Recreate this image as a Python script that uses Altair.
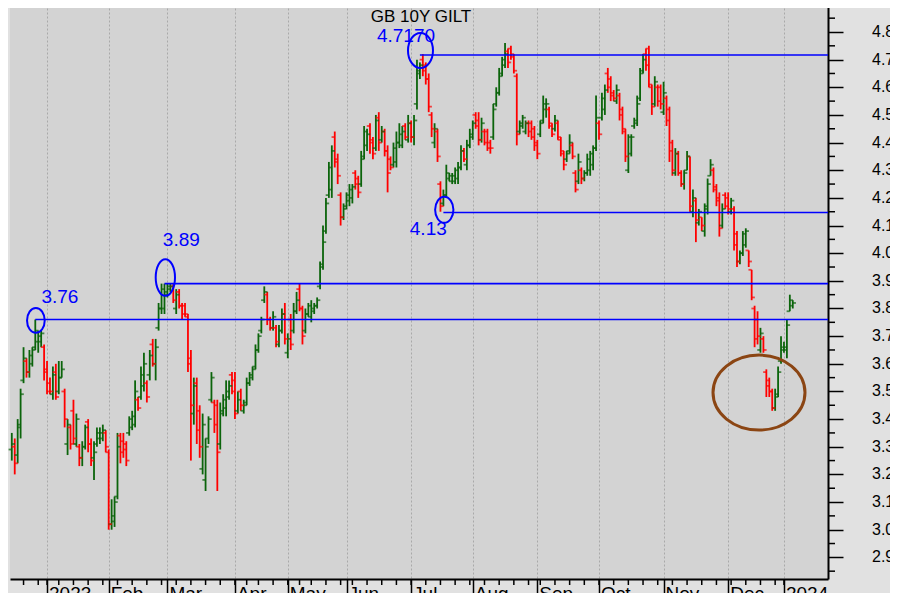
import altair as alt
import pandas as pd

# ---------------- data ----------------
HOLIDAYS = ["2022-12-26", "2022-12-27", "2023-01-02", "2023-04-07", "2023-04-10",
            "2023-05-01", "2023-05-08", "2023-05-29", "2023-08-28", "2023-12-25",
            "2023-12-26", "2024-01-01"]

opens = [3.29, 3.30, 3.27, 3.37, 3.54, 3.61, 3.57, 3.60, 3.66, 3.68, 3.68, 3.66, 3.58, 3.53, 3.49, 3.57, 3.50, 3.55, 3.50, 3.31,
         3.37, 3.43, 3.31, 3.30, 3.26, 3.30, 3.39, 3.31, 3.26, 3.31, 3.33, 3.33, 3.35, 3.28, 3.02, 3.03, 3.12, 3.34, 3.32, 3.31,
         3.35, 3.37, 3.38, 3.47, 3.48, 3.52, 3.53, 3.56, 3.67, 3.60, 3.73, 3.80, 3.80, 3.85, 3.87, 3.88, 3.80, 3.86, 3.81, 3.81,
         3.77, 3.60, 3.42, 3.53, 3.43, 3.22, 3.18, 3.33, 3.47, 3.46, 3.45, 3.31, 3.42, 3.44, 3.48, 3.56, 3.54, 3.43, 3.50, 3.43,
         3.46, 3.53, 3.55, 3.59, 3.65, 3.72, 3.83, 3.85, 3.76, 3.73, 3.73, 3.67, 3.72, 3.78, 3.64, 3.76, 3.72, 3.79, 3.87, 3.80,
         3.72, 3.78, 3.77, 3.79, 3.81, 3.88, 3.96, 4.08, 4.21, 4.23, 4.42, 4.34, 4.21, 4.13, 4.17, 4.19, 4.20, 4.29, 4.27, 4.25,
         4.35, 4.39, 4.46, 4.41, 4.38, 4.49, 4.41, 4.44, 4.37, 4.34, 4.32, 4.33, 4.40, 4.39, 4.46, 4.41, 4.47, 4.42, 4.54, 4.65,
         4.70, 4.68, 4.63, 4.50, 4.40, 4.44, 4.25, 4.18, 4.21, 4.27, 4.26, 4.26, 4.27, 4.31, 4.37, 4.32, 4.39, 4.42, 4.50, 4.48,
         4.41, 4.44, 4.44, 4.40, 4.42, 4.54, 4.58, 4.65, 4.68, 4.73, 4.74, 4.71, 4.64, 4.44, 4.46, 4.44, 4.47, 4.47, 4.45, 4.40,
         4.43, 4.48, 4.52, 4.52, 4.46, 4.45, 4.47, 4.41, 4.36, 4.34, 4.37, 4.39, 4.29, 4.26, 4.30, 4.27, 4.29, 4.30, 4.32, 4.38,
         4.47, 4.49, 4.52, 4.65, 4.63, 4.58, 4.55, 4.57, 4.52, 4.44, 4.30, 4.36, 4.46, 4.47, 4.56, 4.66, 4.72, 4.74, 4.60, 4.54,
         4.60, 4.60, 4.51, 4.56, 4.52, 4.40, 4.29, 4.36, 4.29, 4.25, 4.30, 4.35, 4.15, 4.19, 4.11, 4.13, 4.08, 4.16, 4.28, 4.30,
         4.24, 4.20, 4.10, 4.21, 4.20, 4.15, 4.16, 4.07, 3.97, 4.00, 4.03, 4.01, 3.94, 3.80, 3.76, 3.65, 3.69, 3.57, 3.54, 3.50,
         3.44, 3.49, 3.61, 3.65, 3.65, 3.79, 3.81]
highs = [3.35, 3.33, 3.40, 3.51, 3.66, 3.62, 3.65, 3.66, 3.76, 3.72, 3.72, 3.67, 3.61, 3.55, 3.59, 3.60, 3.61, 3.61, 3.51, 3.40,
         3.38, 3.47, 3.42, 3.31, 3.32, 3.38, 3.40, 3.33, 3.32, 3.37, 3.37, 3.38, 3.36, 3.29, 3.11, 3.12, 3.35, 3.35, 3.35, 3.32,
         3.41, 3.43, 3.54, 3.48, 3.59, 3.64, 3.54, 3.65, 3.69, 3.69, 3.82, 3.89, 3.89, 3.89, 3.89, 3.89, 3.87, 3.87, 3.82, 3.82,
         3.78, 3.65, 3.55, 3.55, 3.45, 3.42, 3.33, 3.41, 3.57, 3.47, 3.47, 3.46, 3.49, 3.54, 3.54, 3.57, 3.57, 3.50, 3.51, 3.47,
         3.55, 3.57, 3.59, 3.67, 3.71, 3.77, 3.88, 3.86, 3.77, 3.79, 3.74, 3.74, 3.80, 3.82, 3.71, 3.78, 3.82, 3.86, 3.89, 3.81,
         3.80, 3.82, 3.83, 3.82, 3.84, 3.97, 4.10, 4.20, 4.33, 4.39, 4.44, 4.36, 4.22, 4.18, 4.22, 4.25, 4.25, 4.30, 4.28, 4.37,
         4.46, 4.45, 4.47, 4.42, 4.50, 4.51, 4.46, 4.45, 4.39, 4.35, 4.40, 4.44, 4.47, 4.46, 4.47, 4.50, 4.48, 4.50, 4.70, 4.69,
         4.72, 4.69, 4.65, 4.51, 4.47, 4.45, 4.26, 4.23, 4.32, 4.29, 4.29, 4.31, 4.33, 4.39, 4.38, 4.41, 4.45, 4.48, 4.51, 4.51,
         4.49, 4.45, 4.45, 4.41, 4.54, 4.60, 4.67, 4.71, 4.76, 4.74, 4.75, 4.72, 4.65, 4.48, 4.50, 4.48, 4.48, 4.48, 4.46, 4.41,
         4.48, 4.57, 4.56, 4.53, 4.47, 4.50, 4.48, 4.42, 4.37, 4.37, 4.43, 4.40, 4.30, 4.36, 4.31, 4.30, 4.36, 4.37, 4.39, 4.57,
         4.48, 4.58, 4.61, 4.67, 4.64, 4.59, 4.61, 4.58, 4.53, 4.45, 4.43, 4.43, 4.49, 4.57, 4.67, 4.72, 4.74, 4.75, 4.61, 4.64,
         4.61, 4.61, 4.62, 4.57, 4.53, 4.41, 4.38, 4.37, 4.30, 4.30, 4.37, 4.35, 4.23, 4.20, 4.16, 4.13, 4.18, 4.27, 4.34, 4.31,
         4.25, 4.22, 4.18, 4.22, 4.22, 4.20, 4.17, 4.08, 4.01, 4.08, 4.09, 4.01, 3.94, 3.81, 3.79, 3.73, 3.70, 3.58, 3.55, 3.51,
         3.51, 3.59, 3.70, 3.68, 3.76, 3.85, 3.83]
lows = [3.25, 3.20, 3.24, 3.33, 3.53, 3.55, 3.55, 3.59, 3.65, 3.64, 3.66, 3.54, 3.49, 3.49, 3.47, 3.47, 3.49, 3.55, 3.37, 3.27,
        3.29, 3.31, 3.30, 3.23, 3.23, 3.29, 3.28, 3.23, 3.18, 3.30, 3.31, 3.32, 3.28, 3.00, 3.00, 3.01, 3.11, 3.24, 3.26, 3.23,
        3.34, 3.36, 3.37, 3.43, 3.47, 3.50, 3.46, 3.54, 3.59, 3.54, 3.72, 3.78, 3.78, 3.84, 3.86, 3.82, 3.78, 3.80, 3.76, 3.77,
        3.57, 3.25, 3.38, 3.31, 3.26, 3.20, 3.14, 3.31, 3.46, 3.35, 3.14, 3.29, 3.41, 3.41, 3.47, 3.49, 3.40, 3.42, 3.43, 3.42,
        3.45, 3.52, 3.54, 3.58, 3.64, 3.71, 3.82, 3.74, 3.72, 3.72, 3.66, 3.66, 3.71, 3.67, 3.62, 3.65, 3.71, 3.78, 3.79, 3.67,
        3.71, 3.77, 3.75, 3.78, 3.80, 3.87, 3.94, 4.07, 4.20, 4.20, 4.31, 4.25, 4.10, 4.12, 4.16, 4.17, 4.18, 4.23, 4.20, 4.24,
        4.34, 4.37, 4.36, 4.34, 4.37, 4.37, 4.40, 4.35, 4.22, 4.30, 4.31, 4.31, 4.38, 4.38, 4.41, 4.40, 4.40, 4.39, 4.52, 4.63,
        4.64, 4.61, 4.51, 4.42, 4.38, 4.33, 4.15, 4.17, 4.20, 4.26, 4.25, 4.25, 4.25, 4.30, 4.33, 4.30, 4.38, 4.41, 4.45, 4.39,
        4.40, 4.39, 4.37, 4.36, 4.41, 4.53, 4.57, 4.64, 4.67, 4.67, 4.70, 4.65, 4.39, 4.43, 4.45, 4.43, 4.42, 4.41, 4.37, 4.34,
        4.42, 4.47, 4.49, 4.45, 4.42, 4.44, 4.41, 4.35, 4.30, 4.33, 4.36, 4.34, 4.22, 4.25, 4.25, 4.26, 4.28, 4.28, 4.30, 4.37,
        4.41, 4.48, 4.50, 4.58, 4.55, 4.55, 4.54, 4.48, 4.43, 4.33, 4.29, 4.35, 4.45, 4.46, 4.55, 4.65, 4.66, 4.60, 4.50, 4.53,
        4.53, 4.52, 4.50, 4.46, 4.33, 4.28, 4.28, 4.28, 4.24, 4.23, 4.30, 4.15, 4.13, 4.04, 4.10, 4.08, 4.06, 4.14, 4.28, 4.22,
        4.17, 4.06, 4.09, 4.16, 4.14, 4.14, 4.01, 3.95, 3.96, 3.99, 4.02, 3.95, 3.83, 3.66, 3.67, 3.64, 3.64, 3.48, 3.48, 3.43,
        3.43, 3.48, 3.60, 3.64, 3.62, 3.79, 3.80]
closes = [3.31, 3.24, 3.38, 3.49, 3.62, 3.57, 3.63, 3.65, 3.72, 3.70, 3.71, 3.57, 3.50, 3.50, 3.56, 3.48, 3.55, 3.58, 3.40, 3.38,
          3.31, 3.33, 3.40, 3.26, 3.30, 3.37, 3.31, 3.25, 3.28, 3.35, 3.35, 3.36, 3.30, 3.02, 3.05, 3.10, 3.30, 3.28, 3.29, 3.25,
          3.40, 3.41, 3.50, 3.44, 3.56, 3.60, 3.48, 3.63, 3.60, 3.66, 3.80, 3.87, 3.86, 3.88, 3.88, 3.83, 3.85, 3.81, 3.78, 3.78,
          3.62, 3.45, 3.52, 3.36, 3.30, 3.38, 3.30, 3.40, 3.55, 3.38, 3.28, 3.43, 3.47, 3.50, 3.52, 3.50, 3.42, 3.47, 3.45, 3.45,
          3.53, 3.56, 3.58, 3.65, 3.70, 3.76, 3.86, 3.76, 3.73, 3.77, 3.68, 3.72, 3.78, 3.69, 3.69, 3.67, 3.79, 3.83, 3.80, 3.70,
          3.78, 3.81, 3.80, 3.81, 3.83, 3.95, 4.04, 4.18, 4.31, 4.37, 4.33, 4.28, 4.13, 4.16, 4.21, 4.23, 4.24, 4.25, 4.22, 4.34,
          4.44, 4.43, 4.40, 4.36, 4.48, 4.40, 4.44, 4.37, 4.29, 4.31, 4.38, 4.40, 4.43, 4.44, 4.42, 4.47, 4.42, 4.48, 4.66, 4.68,
          4.66, 4.63, 4.53, 4.45, 4.45, 4.35, 4.17, 4.21, 4.29, 4.28, 4.28, 4.30, 4.31, 4.37, 4.34, 4.39, 4.43, 4.47, 4.46, 4.41,
          4.47, 4.40, 4.38, 4.38, 4.52, 4.58, 4.64, 4.70, 4.72, 4.69, 4.72, 4.66, 4.43, 4.47, 4.49, 4.47, 4.44, 4.42, 4.39, 4.36,
          4.47, 4.54, 4.54, 4.47, 4.43, 4.48, 4.42, 4.37, 4.32, 4.36, 4.40, 4.35, 4.23, 4.33, 4.27, 4.29, 4.34, 4.36, 4.38, 4.49,
          4.43, 4.56, 4.59, 4.60, 4.57, 4.56, 4.59, 4.50, 4.45, 4.35, 4.42, 4.42, 4.48, 4.54, 4.65, 4.70, 4.68, 4.61, 4.53, 4.62,
          4.55, 4.54, 4.58, 4.48, 4.37, 4.30, 4.36, 4.29, 4.25, 4.29, 4.35, 4.17, 4.20, 4.12, 4.15, 4.10, 4.17, 4.25, 4.32, 4.23,
          4.19, 4.09, 4.16, 4.17, 4.16, 4.19, 4.03, 3.97, 4.00, 4.07, 4.08, 3.97, 3.84, 3.69, 3.70, 3.71, 3.65, 3.52, 3.50, 3.44,
          3.48, 3.57, 3.66, 3.66, 3.74, 3.83, 3.82]

# horizontal levels drawn on the chart: start bar index and level
level_start = [8, 52, 139, 147]
level_value = [3.76, 3.89, 4.717, 4.147]

# ellipses: centre bar index, centre level
ell_idx = [8.2, 52.3, 139.2, 147.3, 254.5]
ell_val = [3.757, 3.912, 4.733, 4.157, 3.496]

# annotation texts
ann_text = ["3.76", "3.89", "4.7170", "4.13"]

chart_title = "GB 10Y GILT"

y_major = [2.9, 3.0, 3.1, 3.2, 3.3, 3.4, 3.5, 3.6, 3.7, 3.8, 3.9, 4.0, 4.1, 4.2, 4.3, 4.4, 4.5, 4.6, 4.7, 4.8]
y_minor = [2.85, 2.95, 3.05, 3.15, 3.25, 3.35, 3.45, 3.55, 3.65, 3.75, 3.85, 3.95, 4.05, 4.15, 4.25, 4.35,
           4.45, 4.55, 4.65, 4.75, 4.85]

# ---------------- frames ----------------
dates = [d for d in pd.bdate_range("2022-12-13", "2024-01-05") if d.strftime("%Y-%m-%d") not in HOLIDAYS]
n = len(closes)
dates = dates[:n]
df = pd.DataFrame({"i": list(range(n)), "date": dates, "open": opens, "high": highs,
                   "low": lows, "close": closes})

month_idx, month_lab = [], []
week_idx = []
prev = None
prev_week = None
for k, d in enumerate(dates):
    if prev is not None and d.month != prev.month:
        month_idx.append(k)
        month_lab.append(str(d.year) if d.month == 1 else d.strftime("%b"))
    wk = d.isocalendar()[1]
    if prev_week is not None and wk != prev_week:
        week_idx.append(k)
    prev, prev_week = d, wk

GREEN = "#0b640b"
RED = "#ff0000"
BLUE = "#0000ff"
FONT = "Liberation Sans"

W, H = 818, 579
xs = alt.Scale(domain=[-0.613, 278.0], nice=False, zero=False)
ys = alt.Scale(domain=[2.8217, 4.9157], nice=False, zero=False)

x_axis = alt.Axis(values=month_idx, labels=False, tickSize=25, tickColor="black", tickWidth=1.5,
                  domainColor="black", domainWidth=2, grid=True,
                  gridColor="#a9a9a9", gridDash=[2, 2], gridWidth=1, title=None)
y_axis = alt.Axis(values=y_major, orient="right", labels=False, tickSize=15, tickColor="black",
                  tickWidth=1.5, domainColor="black", domainWidth=2, grid=False, title=None)

X = lambda f: alt.X(f, scale=xs, axis=x_axis)
Y = lambda f: alt.Y(f, scale=ys, axis=y_axis)

color = alt.condition("datum.close >= datum.open", alt.value(GREEN), alt.value(RED))

base = alt.Chart(df)
hl = base.mark_rule(strokeWidth=1.8).encode(x=X("i:Q"), y=Y("low:Q"), y2="high:Q", color=color)
op = base.mark_tick(orient="horizontal", size=3.2, thickness=1.8, xOffset=-1.6).encode(
    x=X("i:Q"), y=Y("open:Q"), color=color)
cl = base.mark_tick(orient="horizontal", size=3.2, thickness=1.8, xOffset=1.6).encode(
    x=X("i:Q"), y=Y("close:Q"), color=color)

lv = pd.DataFrame({"s": level_start, "v": level_value})
levels = alt.Chart(lv).mark_rule(color=BLUE, strokeWidth=1.6).encode(
    x=X("s:Q"), x2=alt.value(W), y=Y("v:Q"))


def ellipse_path(q):
    k = 0.5523
    return ("M -1 0 C -1 {a} -{k} {b} 0 {b} C {k} {b} 1 {a} 1 0 "
            "C 1 {c} {k} {d} 0 {d} C -{k} {d} -1 {c} -1 0 Z").format(
        a=-k * q, b=-q, c=k * q, d=q, k=k)


ell_style = [(17.7, 1.41, BLUE, 2), (19.3, 1.9, BLUE, 2), (25, 1.4, BLUE, 2), (18.3, 1.42, BLUE, 2),
             (92, 0.815, "#8b4513", 3)]
ell_layers = []
for j, (w, q, c, sw) in enumerate(ell_style):
    d = pd.DataFrame({"i": [ell_idx[j]], "v": [ell_val[j]]})
    ell_layers.append(alt.Chart(d).mark_point(shape=ellipse_path(q), filled=False, stroke=c,
                                              strokeWidth=sw, size=w * w, opacity=1).encode(
        x=X("i:Q"), y=Y("v:Q")))

ann_off = [(24, -23), (16, -37.5), (-14.5, -15), (-16, 19)]
ann_layers = []
for j, t in enumerate(ann_text):
    d = pd.DataFrame({"i": [ell_idx[j]], "v": [ell_val[j]], "t": [t]})
    ann_layers.append(alt.Chart(d).mark_text(color=BLUE, font=FONT, fontSize=19, align="center",
                                             baseline="middle", dx=ann_off[j][0], dy=ann_off[j][1]).encode(
        x=X("i:Q"), y=Y("v:Q"), text="t:N"))

title = alt.Chart(pd.DataFrame({"t": [chart_title]})).mark_text(
    font=FONT, fontSize=17, color="black", align="center", baseline="middle").encode(
    x=alt.value(411), y=alt.value(17), text="t:N")

# minor ticks
ymin = alt.Chart(pd.DataFrame({"v": y_minor})).mark_rule(color="black", strokeWidth=1.5).encode(
    y=Y("v:Q"), x=alt.value(W), x2=alt.value(W + 7))
xmin = alt.Chart(pd.DataFrame({"i": week_idx})).mark_rule(color="black", strokeWidth=1.5).encode(
    x=X("i:Q"), y=alt.value(H), y2=alt.value(H + 6))

# tick labels
ylab_df = pd.DataFrame({"v": y_major, "t": ["%.2f" % v for v in y_major]})
ylab = alt.Chart(ylab_df).mark_text(font=FONT, fontSize=16, color="black", align="left",
                                    baseline="middle").encode(
    y=Y("v:Q"), x=alt.value(W + 44), text="t:N")
xlab_df = pd.DataFrame({"i": month_idx, "t": month_lab})
xlab = alt.Chart(xlab_df).mark_text(font=FONT, fontSize=19, color="black", align="left",
                                    baseline="top", dx=2).encode(
    x=X("i:Q"), y=alt.value(H + 6), text="t:N")

# SVG: 882 x 585 so that the whole page (with its 8px margins) fits the window
chart = alt.layer(hl, op, cl, levels, *ell_layers, *ann_layers, title, ymin, xmin, ylab, xlab).properties(
    width=W, height=H,
    autosize=alt.AutoSizeParams(type="none"),
    padding={"left": 2, "top": -8, "right": 62, "bottom": 14},
    background="#e1e1e1",
).configure_view(fill="#d3d3d3", stroke=None)

chart.save("out.html", embed_options={"renderer": "svg", "actions": False})
